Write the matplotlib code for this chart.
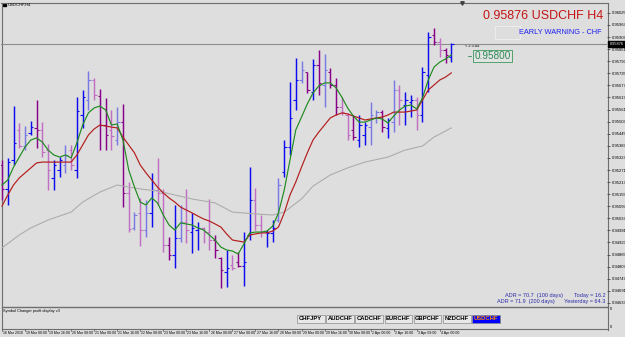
import matplotlib
matplotlib.use("Agg")
import matplotlib.pyplot as plt
from matplotlib.patches import Rectangle
from matplotlib import transforms

plt.rcParams['font.family'] = ['Liberation Sans', 'DejaVu Sans']

symbol = "USDCHF"
timeframe = "H4"
last_price = 0.95876
marker_price = 0.95800

# H4 bars, oldest first
opens = [0.95295, 0.95180, 0.95319, 0.95463, 0.95386, 0.95449, 0.95473, 0.95463, 0.95367, 0.95233,
         0.95271, 0.95295, 0.95367, 0.95271, 0.95535, 0.95607, 0.95703, 0.95626, 0.95487, 0.95463,
         0.95415, 0.95501, 0.95161, 0.94993, 0.95065, 0.94983, 0.95065, 0.95175, 0.95161, 0.94911,
         0.94863, 0.94945, 0.95021, 0.94973, 0.94983, 0.94993, 0.94973, 0.94935, 0.94849, 0.94781,
         0.94815, 0.94829, 0.94810, 0.94959, 0.95127, 0.95007, 0.94973, 0.94969, 0.95031, 0.95261,
         0.95381, 0.95607, 0.95703, 0.95741, 0.95645, 0.95775, 0.95679, 0.95741, 0.95679, 0.95573,
         0.95535, 0.95463, 0.95415, 0.95439, 0.95477, 0.95521, 0.95549, 0.95473, 0.95501, 0.95655,
         0.95583, 0.95597, 0.95607, 0.95535, 0.95727, 0.95919, 0.95885, 0.95847, 0.95813]
highs = [0.95319, 0.95329, 0.95578, 0.95497, 0.95482, 0.95506, 0.95607, 0.95501, 0.95396, 0.95319,
         0.95333, 0.95391, 0.95391, 0.95621, 0.95655, 0.95746, 0.95713, 0.95660, 0.95617, 0.95559,
         0.95573, 0.95588, 0.95213, 0.95069, 0.95137, 0.95127, 0.95257, 0.95329, 0.95180, 0.94949,
         0.95103, 0.95103, 0.95180, 0.95065, 0.95021, 0.94997, 0.95132, 0.94959, 0.94853, 0.94887,
         0.94863, 0.94877, 0.94973, 0.95285, 0.95185, 0.95055, 0.94983, 0.95031, 0.95233, 0.95415,
         0.95693, 0.95809, 0.95794, 0.95741, 0.95804, 0.95847, 0.95828, 0.95761, 0.95713, 0.95621,
         0.95545, 0.95535, 0.95535, 0.95501, 0.95597, 0.95559, 0.95559, 0.95521, 0.95703, 0.95679,
         0.95645, 0.95631, 0.95621, 0.95765, 0.95933, 0.95953, 0.95905, 0.95857, 0.95881]
lows = [0.95127, 0.95103, 0.95295, 0.95377, 0.95367, 0.95439, 0.95377, 0.95333, 0.95175, 0.95175,
        0.95237, 0.95257, 0.95271, 0.95233, 0.95473, 0.95559, 0.95607, 0.95367, 0.95367, 0.95367,
        0.95391, 0.95093, 0.94973, 0.94983, 0.94906, 0.94949, 0.94997, 0.95103, 0.94877, 0.94839,
        0.94801, 0.94925, 0.94921, 0.94873, 0.94887, 0.94921, 0.94887, 0.94849, 0.94705, 0.94709,
        0.94791, 0.94805, 0.94714, 0.94935, 0.94983, 0.94949, 0.94901, 0.94925, 0.95021, 0.95237,
        0.95343, 0.95559, 0.95689, 0.95641, 0.95607, 0.95631, 0.95573, 0.95665, 0.95535, 0.95535,
        0.95415, 0.95415, 0.95381, 0.95391, 0.95391, 0.95497, 0.95453, 0.95425, 0.95453, 0.95487,
        0.95487, 0.95525, 0.95463, 0.95501, 0.95645, 0.95871, 0.95813, 0.95785, 0.95789]
closes = [0.95180, 0.95309, 0.95401, 0.95386, 0.95439, 0.95477, 0.95463, 0.95357, 0.95271, 0.95295,
          0.95319, 0.95343, 0.95295, 0.95554, 0.95621, 0.95703, 0.95631, 0.95487, 0.95439, 0.95434,
          0.95501, 0.95161, 0.94988, 0.95055, 0.94983, 0.95065, 0.95175, 0.95161, 0.94911, 0.94863,
          0.94945, 0.95021, 0.94983, 0.94993, 0.94993, 0.94973, 0.94935, 0.94887, 0.94791, 0.94801,
          0.94801, 0.94810, 0.94829, 0.95127, 0.95007, 0.94973, 0.94969, 0.94993, 0.95199, 0.95381,
          0.95521, 0.95703, 0.95751, 0.95655, 0.95775, 0.95689, 0.95751, 0.95679, 0.95573, 0.95549,
          0.95439, 0.95429, 0.95487, 0.95487, 0.95535, 0.95549, 0.95477, 0.95511, 0.95655, 0.95607,
          0.95607, 0.95607, 0.95535, 0.95741, 0.95909, 0.95885, 0.95847, 0.95823, 0.95876]
bar_kind = ("P B B LP LB B P LP LP B B LB LP B B LB LP P P LP LB P LP LB LP LB B LP LP P "
            "B LB LP B B LP LP P P B LP P B B LP LP B B LB B B B LB P B P LB P P LP "
            "LP P B B LB LB P B LB LP B B LP B B P LP P B").split()

ma_fast = [0.95199, 0.95223, 0.95285, 0.95333, 0.95381, 0.95415, 0.95425, 0.95405, 0.95367, 0.95343,
           0.95333, 0.95343, 0.95329, 0.95401, 0.95487, 0.95545, 0.95569, 0.95578, 0.95559, 0.95487,
           0.95492, 0.95415, 0.95271, 0.95189, 0.95117, 0.95103, 0.95137, 0.95113, 0.95055, 0.95007,
           0.94983, 0.95017, 0.95012, 0.95007, 0.94993, 0.94983, 0.94959, 0.94935, 0.94901, 0.94887,
           0.94882, 0.94868, 0.94916, 0.94969, 0.94973, 0.94973, 0.94978, 0.95002, 0.95065, 0.95175,
           0.95319, 0.95463, 0.95525, 0.95588, 0.95641, 0.95674, 0.95689, 0.95689, 0.95665, 0.95621,
           0.95569, 0.95530, 0.95501, 0.95501, 0.95511, 0.95521, 0.95516, 0.95497, 0.95530, 0.95559,
           0.95578, 0.95583, 0.95564, 0.95617, 0.95703, 0.95765, 0.95789, 0.95804, 0.95823]
ma_mid = [0.95098, 0.95151, 0.95199, 0.95233, 0.95257, 0.95281, 0.95305, 0.95309, 0.95309, 0.95309,
          0.95309, 0.95309, 0.95309, 0.95343, 0.95391, 0.95439, 0.95468, 0.95487, 0.95482, 0.95477,
          0.95473, 0.95429, 0.95391, 0.95353, 0.95295, 0.95257, 0.95223, 0.95189, 0.95161, 0.95137,
          0.95117, 0.95093, 0.95079, 0.95065, 0.95050, 0.95036, 0.95026, 0.95012, 0.94997, 0.94964,
          0.94935, 0.94930, 0.94925, 0.94959, 0.94964, 0.94969, 0.94969, 0.94978, 0.94997, 0.95065,
          0.95151, 0.95213, 0.95285, 0.95353, 0.95415, 0.95453, 0.95487, 0.95521, 0.95535, 0.95545,
          0.95540, 0.95530, 0.95521, 0.95511, 0.95516, 0.95521, 0.95525, 0.95535, 0.95549, 0.95549,
          0.95549, 0.95554, 0.95559, 0.95607, 0.95655, 0.95679, 0.95703, 0.95717, 0.95737]
ma_slow_bar = [0, 3, 5, 8, 12, 14, 17, 20, 22, 24, 27, 30, 33, 37, 40, 44, 47, 49, 52, 54,
               57, 60, 63, 67, 70, 73, 75, 78]
ma_slow = [0.94897, 0.94959, 0.94993, 0.95031, 0.95069, 0.95117, 0.95165, 0.95199, 0.95189, 0.95180,
           0.95170, 0.95151, 0.95132, 0.95113, 0.95069, 0.95060, 0.95055, 0.95069, 0.95132, 0.95194,
           0.95247, 0.95281, 0.95309, 0.95333, 0.95367, 0.95386, 0.95429, 0.95473]

date_labels = ["16 Mar 2018", "19 Mar 00:00", "19 Mar 16:00", "20 Mar 08:00", "21 Mar 00:00",
               "21 Mar 16:00", "22 Mar 08:00", "23 Mar 00:00", "23 Mar 16:00", "26 Mar 08:00",
               "27 Mar 00:00", "27 Mar 16:00", "28 Mar 08:00", "29 Mar 00:00", "29 Mar 16:00",
               "30 Mar 08:00", "2 Apr 00:00", "2 Apr 16:00", "3 Apr 08:00", "4 Apr 00:00"]
price_ticks = [0.96025, 0.95967, 0.95909, 0.95851, 0.95793, 0.95735, 0.95677, 0.95619, 0.95561,
               0.95503, 0.95445, 0.95387, 0.95329, 0.95271, 0.95213, 0.95155, 0.95097, 0.95039,
               0.94981, 0.94923, 0.94865, 0.94807, 0.94749, 0.94691, 0.94633]
pairs = ["CHFJPY", "AUDCHF", "CADCHF", "EURCHF", "GBPCHF", "NZDCHF", "USDCHF"]
adr_text = [("ADR = 70.7  (100 days)", "Today = 16.2"),
            ("ADR = 71.9  (200 days)", "Yesterday = 64.3")]

colors = {"B": "#0c0cf0", "LB": "#7a7ae4", "P": "#880088", "LP": "#c070c4"}

W, H = 625, 337
fig = plt.figure(figsize=(6.25, 3.37), dpi=100)
fig.patch.set_facecolor("#dedede")

# pixel overlay for the terminal frame and labels
px = fig.add_axes([0, 0, 1, 1])
px.set_xlim(0, W)
px.set_ylim(H, 0)
px.axis("off")

frame = "#6e6e6e"
px.plot([1, 607.5], [2.5, 2.5], color=frame, lw=0.8)
px.plot([1.5, 1.5], [2.5, 328.5], color=frame, lw=0.8)
px.plot([607.5, 607.5], [2.5, 330], color=frame, lw=0.8)
px.plot([1.5, 607.5], [306.8, 306.8], color=frame, lw=1.0)
px.plot([1.5, 607.5], [328.5, 328.5], color=frame, lw=0.8)

# main price chart
n = len(closes)
x = list(range(n))
ax = fig.add_axes([1 / W, 1 - 306 / H, 606 / W, 303 / H])
ax.set_facecolor("none")
ax.set_xlim(-1 / 5.76, 605 / 5.76)
ax.set_ylim(0.946182, 0.960726)
for s in ax.spines.values():
    s.set_visible(False)
ax.set_xticks([])
ax.yaxis.tick_right()
ax.set_yticks(price_ticks)
ax.set_yticklabels([f"{p:.5f}" for p in price_ticks])
ax.tick_params(axis="y", length=2, width=0.5, pad=1.2, labelsize=3.0, color="#333333")

ax.axhline(last_price, color="#8c8c8c", lw=0.8, zorder=1)

cols = [colors[k] for k in bar_kind]
ax.vlines(x, lows, highs, colors=cols, lw=1.05, zorder=2)
ax.hlines(opens, [i - 0.42 for i in x], x, colors=cols, lw=0.8, zorder=2)
ax.hlines(closes, x, [i + 0.42 for i in x], colors=cols, lw=0.8, zorder=2)

ax.plot(ma_slow_bar, ma_slow, color="#adadad", lw=0.8, zorder=3)
ax.plot(x, ma_mid, color="#b41c1c", lw=0.85, zorder=3)
ax.plot(x, ma_fast, color="#1f8a1f", lw=0.85, zorder=3)

# chart labels
px.add_patch(Rectangle((3, 3.8), 3, 2, color="black"))
px.text(8, 5, f"{symbol},{timeframe}", fontsize=3.0, va="center")
px.plot(462, 2.5, marker="v", ms=2.5, color="#404040")
px.text(603, 16, f"{last_price:.5f} {symbol} {timeframe}", color="#c41414",
        fontsize=9, ha="right", va="center")
px.text(602, 32, "EARLY WARNING - CHF", color="#1c1cf0", fontsize=5.3, ha="right", va="center")
px.add_patch(Rectangle((495, 26), 25, 13, fill=False, ec="#efefef", lw=0.6))
px.text(465, 46, "< 2:3:44", fontsize=2.8, va="center")
px.plot([468, 471], [56, 56], color="#2e8b57", lw=0.6)
px.text(492.5, 56, f"{marker_price:.5f}", color="#2e8b57", fontsize=7.2, ha="center", va="center",
        bbox=dict(boxstyle="square,pad=0.12", fc="#e2e2e2", ec="#3c9a5c", lw=0.6))

px.add_patch(Rectangle((608, 41), 17, 6, color="black", zorder=5))
px.text(616.5, 44, f"{last_price:.5f}", color="white", fontsize=2.8, ha="center", va="center", zorder=6)

for k, (left, right) in enumerate(adr_text):
    yy = 295 + 7 * k
    px.text(563 - 8 * k, yy, left, color="#2b2ba8", fontsize=4.0, ha="right", va="center")
    px.text(605, yy, right, color="#2b2ba8", fontsize=4.0, ha="right", va="center")

# symbol changer sub window
px.text(3, 311, "Symbol Changer profit display v3", fontsize=2.8, va="center")
px.text(610, 309.5, "0", fontsize=2.8, va="center")
px.text(610, 326.5, "0", fontsize=2.8, va="center")
for k, name in enumerate(pairs):
    x0 = 297 + 29.2 * k
    active = name == symbol
    px.add_patch(Rectangle((x0, 315), 27.5, 7.5, fc="#0000ff" if active else "#e8e8e8",
                           ec="#8a8a8a", lw=0.5))
    px.text(x0 + 13.75, 318.8, name, fontsize=4.2, fontweight="bold", ha="center", va="center",
            color="#ff8c00" if active else "black")

# time axis
tr = transforms.blended_transform_factory(ax.transData, px.transData)
for k, lab in enumerate(date_labels):
    px.plot([4 * k, 4 * k], [328.5, 331], color="#555555", lw=0.5, transform=tr)
    px.text(4 * k + 0.2, 332.8, lab, fontsize=2.5, ha="left", va="center", transform=tr)

fig.savefig("out.png", dpi=100, facecolor=fig.get_facecolor())
